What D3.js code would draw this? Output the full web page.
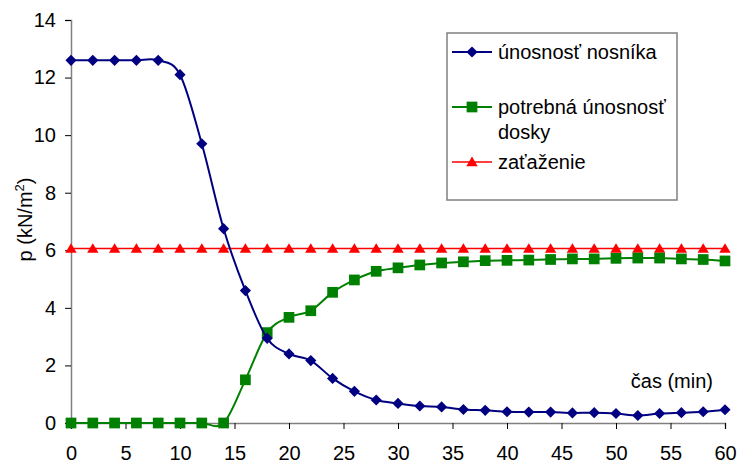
<!DOCTYPE html>
<html>
<head>
<meta charset="utf-8">
<script src="https://cdn.jsdelivr.net/npm/d3@7"></script>
<style>
  html, body { margin: 0; padding: 0; background: #fff; }
  svg { display: block; font-family: "Liberation Sans", Arial, sans-serif; }
</style>
</head>
<body>
<svg id="chart" width="737" height="465"></svg>
<script>
// time in minutes
const time = d3.range(0, 61, 2);

// únosnosť nosníka (kN/m²)
const nosnik = [12.6, 12.6, 12.6, 12.6, 12.6, 12.1, 9.7, 6.75, 4.6, 2.94, 2.4,
  2.17, 1.55, 1.1, 0.8, 0.68, 0.59, 0.56, 0.47, 0.44, 0.39, 0.38, 0.38, 0.35,
  0.36, 0.33, 0.26, 0.33, 0.36, 0.39, 0.46];

// potrebná únosnosť dosky (kN/m²)
const doska = [0, 0, 0, 0, 0, 0, 0, 0, 1.5, 3.14, 3.67, 3.9, 4.54, 4.97, 5.27,
  5.39, 5.49, 5.56, 5.6, 5.64, 5.65, 5.66, 5.68, 5.7, 5.7, 5.72, 5.73, 5.73,
  5.7, 5.68, 5.63];

// zaťaženie (kN/m²)
const zatazenie = time.map(() => 6.06);

const xTicks = [0, 5, 10, 15, 20, 25, 30, 35, 40, 45, 50, 55, 60];
const yTicks = [0, 2, 4, 6, 8, 10, 12, 14];

const seriesNames = ["únosnosť nosníka", "potrebná únosnosť dosky", "zaťaženie"];

const svg = d3.select("#chart");
const FONT = 20;

const x = d3.scaleLinear().domain([0, 60]).range([71, 725]);
const y = d3.scaleLinear().domain([0, 14]).range([423, 20]);

const axisColor = "#808080";

// y axis
const gy = svg.append("g")
  .attr("transform", `translate(${x(0)},0)`)
  .call(d3.axisLeft(y).tickValues(yTicks).tickSizeOuter(0).tickSize(6).tickPadding(9));
gy.select(".domain").attr("stroke", axisColor).attr("stroke-width", 1.5);
gy.selectAll(".tick line").attr("stroke", "#000");
gy.selectAll(".tick text").attr("font-size", FONT).attr("fill", "#000")
  .attr("font-family", "Liberation Sans, Arial, sans-serif");

// x axis at y = 0
const gx = svg.append("g")
  .attr("transform", `translate(0,${y(0)})`)
  .call(d3.axisBottom(x).tickValues(xTicks).tickSizeOuter(0).tickSize(6).tickPadding(17));
gx.select(".domain").attr("stroke", axisColor).attr("stroke-width", 1.5);
gx.selectAll(".tick line").attr("stroke", "#000");
gx.selectAll(".tick text").attr("font-size", FONT).attr("fill", "#000")
  .attr("font-family", "Liberation Sans, Arial, sans-serif");

// axis titles
const yTitle = svg.append("text")
  .attr("transform", `translate(32,${(y(0) + y(14)) / 2 - 2}) rotate(-90)`)
  .attr("text-anchor", "middle")
  .attr("font-size", FONT)
  .attr("fill", "#000");
yTitle.append("tspan").text("p (kN/m");
yTitle.append("tspan").attr("font-size", 13).attr("dy", -8).text("2");
yTitle.append("tspan").attr("dy", 8).text(")");

svg.append("text")
  .attr("x", 713).attr("y", 388)
  .attr("text-anchor", "end")
  .attr("font-size", FONT)
  .attr("fill", "#000")
  .text("čas (min)");

// marker shapes
const diamond = {
  draw(ctx, size) {
    const r = Math.sqrt(size) / 2;
    ctx.moveTo(0, -r); ctx.lineTo(r, 0); ctx.lineTo(0, r); ctx.lineTo(-r, 0); ctx.closePath();
  }
};
const triangle = {
  draw(ctx, size) {
    const w = Math.sqrt(size) / 2;
    ctx.moveTo(0, -w * 0.95); ctx.lineTo(w, w * 0.75); ctx.lineTo(-w, w * 0.75); ctx.closePath();
  }
};

const series = [
  { name: seriesNames[0], values: nosnik, color: "#000080", width: 2, symbol: diamond, size: 125 },
  { name: seriesNames[1], values: doska, color: "#008000", width: 2, symbol: d3.symbolSquare, size: 115 },
  { name: seriesNames[2], values: zatazenie, color: "#ff0000", width: 1.6, symbol: triangle, size: 130 }
];

const line = d3.line()
  .x((d, i) => x(time[i]))
  .y(d => y(d))
  .curve(d3.curveCardinal.tension(0));

// draw in reverse so the first series sits on top
[...series].reverse().forEach(s => {
  const g = svg.append("g");
  g.append("path")
    .datum(s.values)
    .attr("fill", "none")
    .attr("stroke", s.color)
    .attr("stroke-width", s.width)
    .attr("d", line);
  g.selectAll("path.m")
    .data(s.values)
    .join("path")
    .attr("class", "m")
    .attr("transform", (d, i) => `translate(${x(time[i])},${y(d)})`)
    .attr("d", d3.symbol().type(s.symbol).size(s.size))
    .attr("fill", s.color);
});

// legend
const lg = svg.append("g");
lg.append("rect")
  .attr("x", 447).attr("y", 33).attr("width", 230).attr("height", 167)
  .attr("fill", "#fff").attr("stroke", axisColor).attr("stroke-width", 1.5);

const legendRows = [
  { s: series[0], y: 52, lines: ["únosnosť nosníka"] },
  { s: series[1], y: 107, lines: ["potrebná únosnosť", "dosky"] },
  { s: series[2], y: 162, lines: ["zaťaženie"] }
];
legendRows.forEach(r => {
  lg.append("line")
    .attr("x1", 452).attr("x2", 492).attr("y1", r.y).attr("y2", r.y)
    .attr("stroke", r.s.color).attr("stroke-width", r.s.width);
  lg.append("path")
    .attr("transform", `translate(472,${r.y})`)
    .attr("d", d3.symbol().type(r.s.symbol).size(r.s.size))
    .attr("fill", r.s.color);
  r.lines.forEach((t, k) => {
    lg.append("text")
      .attr("x", 498).attr("y", r.y + 7 + k * 25)
      .attr("font-size", FONT)
      .attr("fill", "#000")
      .text(t);
  });
});
</script>
</body>
</html>
